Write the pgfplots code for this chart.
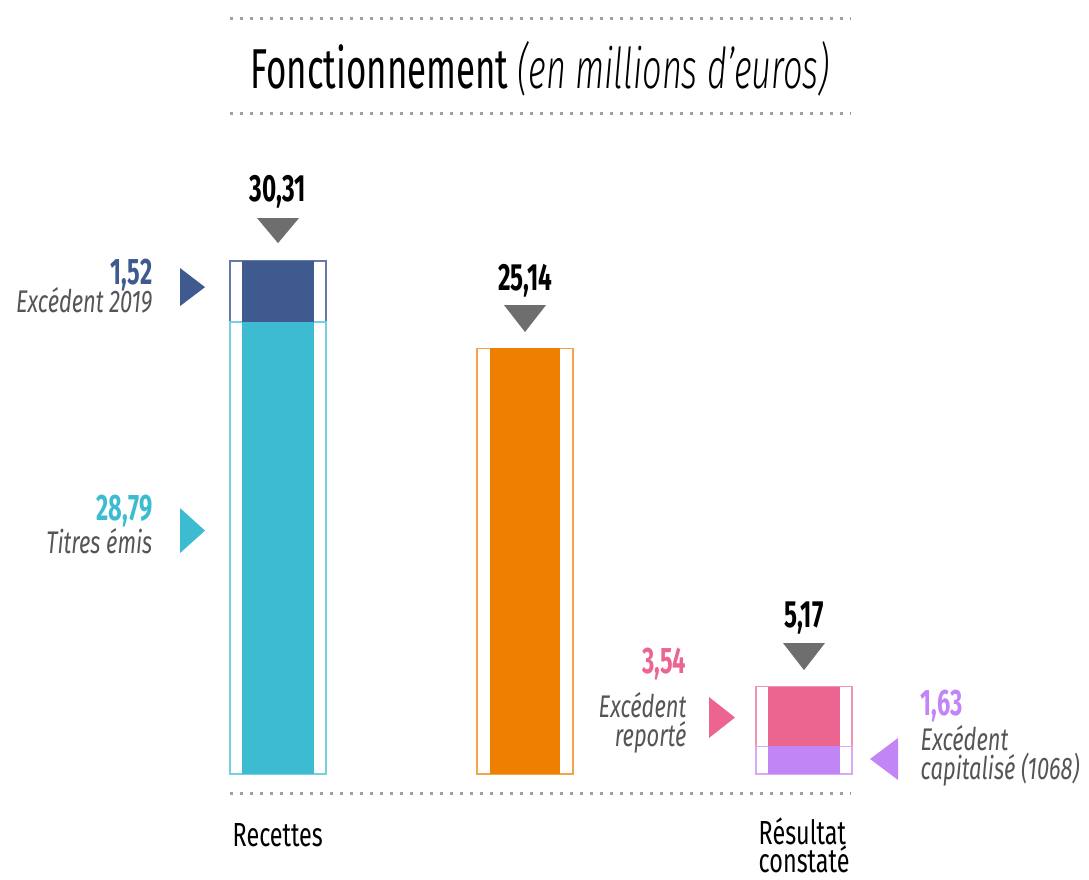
\documentclass[border=0pt]{standalone}
\usepackage{pgfplots}
\pgfplotsset{compat=1.18}
\usepackage{fontspec}
\setmainfont{Fira Sans}[FakeStretch=0.70]
\newfontfamily\valeur{Fira Sans}[FakeStretch=0.64]
\newfontfamily\titre{Fira Sans}[FakeStretch=0.62]
\IfFontExistsTF{Fira Sans Light Italic}
  {\newfontfamily\titreit{Fira Sans Light Italic}[FakeStretch=0.61]}
  {\newfontfamily\titreit{Fira Sans Italic}[FakeStretch=0.61]}
\definecolor{bleufonce}{HTML}{3E5A8E}
\definecolor{bleuclair}{HTML}{3DBBD1}
\definecolor{orange}{HTML}{EF7F00}
\definecolor{rose}{HTML}{EC6590}
\definecolor{violet}{HTML}{C285F6}
\definecolor{fleche}{HTML}{6E6E6E}
\definecolor{texte}{HTML}{555555}
\definecolor{pointille}{HTML}{A0A0A0}
\tikzset{pointilles/.style={pointille, line width=0.03cm, dash pattern=on 0.03cm off 0.07cm}}

\begin{document}
\begin{tikzpicture}
\begin{axis}[
  width=10.89cm, height=8.79cm, scale only axis,
  hide axis, clip=false,
  xmin=0, xmax=1089, ymin=-6.20, ymax=45.72,
  no markers,
]
% cadres extérieurs
\addplot[ybar, bar width=96, bar shift=0pt, draw=bleufonce!80, fill=none, line width=0.4pt]
  coordinates {(278,30.31)};
\addplot[ybar, bar width=96, bar shift=0pt, draw=bleuclair!70, fill=none, line width=0.4pt]
  coordinates {(278,26.70)};
\addplot[ybar, bar width=96, bar shift=0pt, draw=orange!70, fill=none, line width=0.4pt]
  coordinates {(525,25.14)};
\addplot[ybar, bar width=96, bar shift=0pt, draw=rose!70, fill=none, line width=0.4pt]
  coordinates {(804,5.17)};
\addplot[ybar, bar width=96, bar shift=0pt, draw=violet!70, fill=none, line width=0.4pt]
  coordinates {(804,1.63)};
% barres pleines
\addplot[ybar, bar width=72, bar shift=0pt, fill=bleufonce, draw=none]
  coordinates {(278,30.31)};
\addplot[ybar, bar width=72, bar shift=0pt, fill=bleuclair, draw=none]
  coordinates {(278,26.70)};
\addplot[ybar, bar width=70, bar shift=0pt, fill=orange, draw=none]
  coordinates {(525,25.14)};
\addplot[ybar, bar width=72, bar shift=0pt, fill=rose, draw=none]
  coordinates {(804,5.17)};
\addplot[ybar, bar width=72, bar shift=0pt, fill=violet, draw=none]
  coordinates {(804,1.63)};
% flèches
\addplot[fill=fleche, draw=none] coordinates {(257,32.84) (299,32.84) (278,31.36)} -- cycle;
\addplot[fill=fleche, draw=none] coordinates {(504,27.70) (546,27.70) (525,26.11)} -- cycle;
\addplot[fill=fleche, draw=none] coordinates {(783,7.74) (825,7.74) (804,6.14)} -- cycle;
\addplot[fill=bleufonce, draw=none] coordinates {(180,29.89) (180,27.64) (205,28.76)} -- cycle;
\addplot[fill=bleuclair, draw=none] coordinates {(180,15.71) (180,13.05) (205,14.38)} -- cycle;
\addplot[fill=rose, draw=none] coordinates {(709,4.55) (709,2.13) (735,3.34)} -- cycle;
\addplot[fill=violet, draw=none] coordinates {(898,2.13) (898,-0.35) (870,0.89)} -- cycle;

% pointillés
\draw[pointilles] (axis cs:230,44.65) -- (axis cs:851,44.65);
\draw[pointilles] (axis cs:230,39.04) -- (axis cs:851,39.04);
\draw[pointilles] (axis cs:230,-1.12) -- (axis cs:851,-1.12);

% titre
\node[anchor=base, inner sep=0pt, font=\fontsize{16}{18}\selectfont] at (axis cs:540,40.52)
  {\titre Fonctionnement \titreit(en millions d’euros)};

% valeurs
\begin{scope}[every node/.style={font=\fontsize{10.8}{12}\selectfont\valeur\bfseries, anchor=base, inner sep=0pt}]
\node at (axis cs:278,33.79) {30,31};
\node at (axis cs:525,28.59) {25,14};
\node at (axis cs:804,8.68) {5,17};
\end{scope}

% étiquettes
\begin{scope}[every node/.style={inner sep=0pt}]
\node[anchor=base east, bleufonce, font=\fontsize{10.5}{12}\selectfont\valeur\bfseries] at (axis cs:153,28.90) {1,52};
\node[anchor=base east, texte, font=\fontsize{8.9}{10}\selectfont\itshape] at (axis cs:153,27.25) {Excédent 2019};
\node[anchor=base east, bleuclair, font=\fontsize{10.5}{12}\selectfont\valeur\bfseries] at (axis cs:153,14.95) {28,79};
\node[anchor=base east, texte, font=\fontsize{8.9}{10}\selectfont\itshape] at (axis cs:153,13.00) {Titres émis};
\node[anchor=base east, rose, font=\fontsize{10.5}{12}\selectfont\valeur\bfseries] at (axis cs:687,5.95) {3,54};
\node[anchor=base east, texte, font=\fontsize{8.9}{10}\selectfont\itshape] at (axis cs:687,3.37) {Excédent};
\node[anchor=base east, texte, font=\fontsize{8.9}{10}\selectfont\itshape] at (axis cs:687,1.60) {reporté};
\node[anchor=base west, violet, font=\fontsize{10.5}{12}\selectfont\valeur\bfseries] at (axis cs:920,3.45) {1,63};
\node[anchor=base west, texte, font=\fontsize{8.9}{10}\selectfont\itshape] at (axis cs:920,1.42) {Excédent};
\node[anchor=base west, texte, font=\fontsize{8.9}{10}\selectfont\itshape] at (axis cs:920,-0.33) {capitalisé (1068)};
% catégories
\node[anchor=base west, font=\fontsize{9.5}{11}\selectfont] at (axis cs:232,-4.25) {Recettes};
\node[anchor=base west, font=\fontsize{9.5}{11}\selectfont] at (axis cs:758,-4.15) {Résultat};
\node[anchor=base west, font=\fontsize{9.5}{11}\selectfont] at (axis cs:758,-5.80) {constaté};
\end{scope}
\end{axis}
\useasboundingbox (0,0) rectangle (10.89cm,8.79cm);
\end{tikzpicture}
\end{document}
